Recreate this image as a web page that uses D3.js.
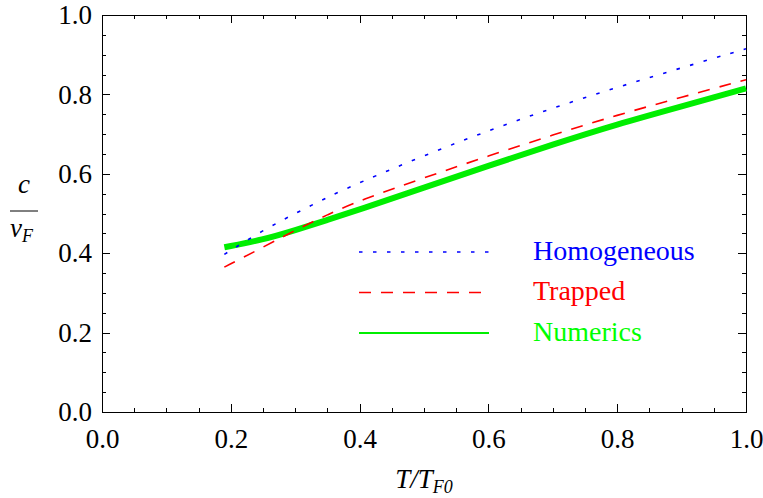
<!DOCTYPE html>
<html>
<head>
<meta charset="utf-8">
<script src="https://cdn.jsdelivr.net/npm/d3@7"></script>
<style>
  body { margin: 0; background: #fff; }
  .axis path, .axis line { stroke: #000; shape-rendering: crispEdges; }
</style>
</head>
<body>
<div id="chart"></div>
<script>
// temperature values T/TF0 (shared by all curves)
var temps = [0.19, 0.25, 0.3, 0.35, 0.4, 0.5, 0.6, 0.7, 0.8, 0.9, 1.0];
// sound speed c/vF
var homogeneous = [0.397, 0.458, 0.500, 0.541, 0.578, 0.646, 0.709, 0.766, 0.818, 0.867, 0.915];
var trapped     = [0.365, 0.415, 0.458, 0.497, 0.533, 0.590, 0.645, 0.698, 0.748, 0.793, 0.837];
var numerics    = [0.415, 0.434, 0.458, 0.484, 0.510, 0.565, 0.620, 0.674, 0.725, 0.770, 0.815];

var majorTicks = [0, 0.2, 0.4, 0.6, 0.8, 1.0];
var minorTicks = d3.range(0, 1.0001, 0.05);
var legendNames = ["Homogeneous", "Trapped", "Numerics"];

var serif = "'Liberation Serif'";

var width = 763, height = 498;
var margin = {top: 15, right: 17, bottom: 86, left: 102};
var w = width - margin.left - margin.right;
var h = height - margin.top - margin.bottom;

var svg = d3.select("#chart").append("svg")
    .attr("width", width)
    .attr("height", height);

var g = svg.append("g")
    .attr("transform", "translate(" + margin.left + "," + margin.top + ")");

var x = d3.scaleLinear().domain([0, 1]).range([0, w]);
var y = d3.scaleLinear().domain([0, 1]).range([h, 0]);

//minor ticks on all four sides, pointing in
g.append("g").attr("class", "axis").attr("transform", "translate(0," + h + ")")
    .call(d3.axisBottom(x).tickValues(minorTicks).tickSize(-4).tickFormat(""));
g.append("g").attr("class", "axis")
    .call(d3.axisTop(x).tickValues(minorTicks).tickSize(-4).tickFormat(""));
g.append("g").attr("class", "axis")
    .call(d3.axisLeft(y).tickValues(minorTicks).tickSize(-4).tickFormat(""));
g.append("g").attr("class", "axis").attr("transform", "translate(" + w + ",0)")
    .call(d3.axisRight(y).tickValues(minorTicks).tickSize(-4).tickFormat(""));

//major ticks with labels
g.append("g").attr("class", "axis").attr("transform", "translate(0," + h + ")")
    .call(d3.axisBottom(x).tickValues(majorTicks).tickSize(-8).tickPadding(17).tickFormat(d3.format(".1f")));
g.append("g").attr("class", "axis")
    .call(d3.axisTop(x).tickValues(majorTicks).tickSize(-8).tickFormat(""));
g.append("g").attr("class", "axis")
    .call(d3.axisLeft(y).tickValues(majorTicks).tickSize(-8).tickPadding(10).tickFormat(d3.format(".1f")));
g.append("g").attr("class", "axis").attr("transform", "translate(" + w + ",0)")
    .call(d3.axisRight(y).tickValues(majorTicks).tickSize(-8).tickFormat(""));

// d3 puts sans-serif on each axis group, set the serif face on the labels
g.selectAll(".axis").attr("font-family", null);
g.selectAll(".axis text")
    .style("font-family", serif)
    .style("font-size", "27px")
    .style("fill", "#000");

var series = [
  {name: legendNames[0], values: homogeneous, color: "#0000ff", width: 1.6, dash: "3.5,10.5", lw: 1.6},
  {name: legendNames[1], values: trapped, color: "#ff0000", width: 1.6, dash: "12,10", lw: 1.6},
  {name: legendNames[2], values: numerics, color: "#00ee00", width: 6, dash: null, lw: 2}
];

var line = d3.line()
    .x(function(d) { return x(d[0]); })
    .y(function(d) { return y(d[1]); })
    .curve(d3.curveBasis);

// draw numerics first so the theory curves sit on top
[2, 1, 0].forEach(function(i) {
  var s = series[i];
  g.append("path")
    .datum(temps.map(function(t, k) { return [t, s.values[k]]; }))
    .attr("fill", "none")
    .attr("stroke", s.color)
    .attr("stroke-width", s.width)
    .attr("stroke-dasharray", s.dash)
    .attr("d", line);
});

// legend
var legend = g.append("g").attr("transform", "translate(" + (359 - margin.left) + "," + (252 - margin.top) + ")");
series.forEach(function(s, i) {
  var ly = i * 40.5;
  legend.append("line")
    .attr("x1", 0).attr("x2", 130)
    .attr("y1", ly).attr("y2", ly)
    .attr("stroke", s.color)
    .attr("stroke-width", s.lw)
    .attr("stroke-dasharray", s.dash);
  legend.append("text")
    .attr("x", 174).attr("y", ly + 5)
    .attr("dy", "0.1em")
    .style("font-family", serif)
    .style("font-size", "28px")
    .attr("fill", s.color == "#00ee00" ? "#00ff00" : s.color)
    .text(s.name);
});

// x axis title T/T_F0
var xt = svg.append("text")
    .attr("x", margin.left + x(0.5))
    .attr("y", 488)
    .attr("text-anchor", "middle")
    .style("font-family", serif)
    .style("font-size", "27px")
    .style("font-style", "italic");
xt.append("tspan").text("T/T");
xt.append("tspan").attr("dy", 5).style("font-size", "18px").text("F0");

// y axis title c over v_F
svg.append("text")
    .attr("x", 24).attr("y", 193)
    .attr("text-anchor", "middle")
    .style("font-family", serif)
    .style("font-size", "27px")
    .style("font-style", "italic")
    .text("c");
svg.append("line")
    .attr("x1", 10).attr("x2", 38)
    .attr("y1", 211).attr("y2", 211)
    .attr("stroke", "#000").attr("stroke-width", 1);
var yt = svg.append("text")
    .attr("x", 10).attr("y", 237)
    .style("font-family", serif)
    .style("font-size", "27px")
    .style("font-style", "italic");
yt.append("tspan").text("v");
yt.append("tspan").attr("dy", 5).style("font-size", "18px").text("F");
</script>
</body>
</html>
